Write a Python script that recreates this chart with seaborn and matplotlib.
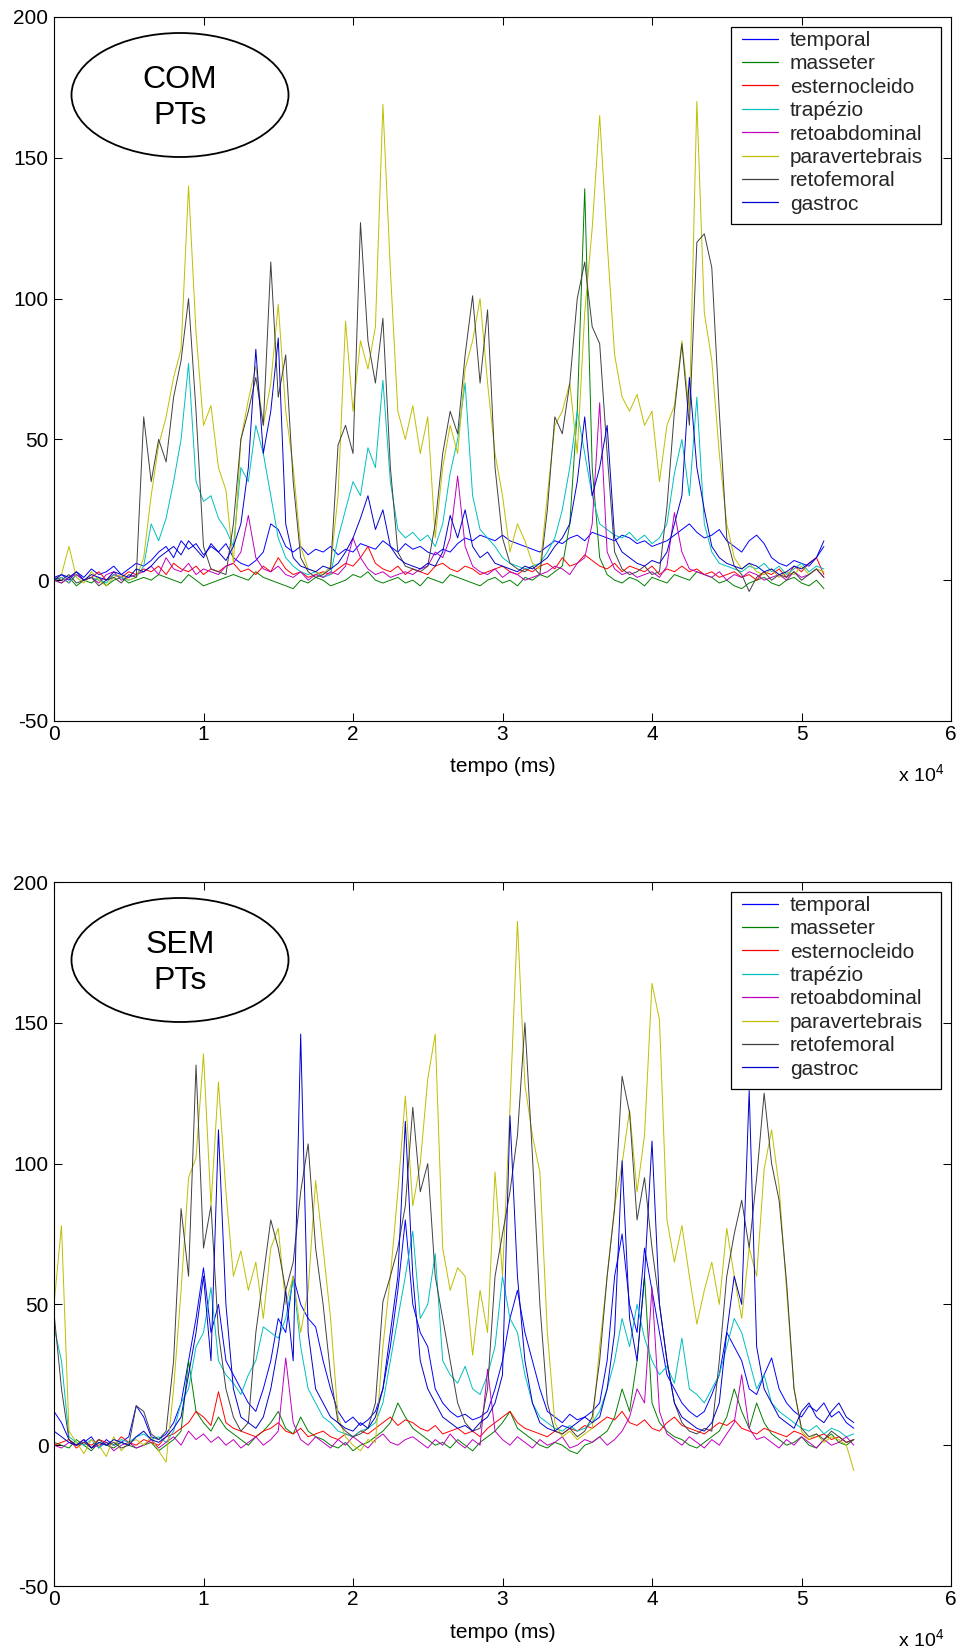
import numpy as np
import pandas as pd
import matplotlib
matplotlib.use("Agg")
import matplotlib.pyplot as plt
from matplotlib.patches import Ellipse, Rectangle
from matplotlib.lines import Line2D
import seaborn as sns

# ---------------- data ----------------
muscles = ["temporal", "masseter", "esternocleido", "trapézio",
           "retoabdominal", "paravertebrais", "retofemoral", "gastroc"]
colors = ["#0000ff", "#008000", "#ff0000", "#00bfbf",
          "#bf00bf", "#bfbf00", "#404040", "#0000cc"]
xtick_values = [0, 10000, 20000, 30000, 40000, 50000, 60000]
xtick_labels = ["0", "1", "2", "3", "4", "5", "6"]
ytick_values = [-50, 0, 50, 100, 150, 200]
ytick_labels = ["-50", "0", "50", "100", "150", "200"]
panel_labels = ["COM\nPTs", "SEM\nPTs"]
x_label = "tempo (ms)"
x_scale_label = "x 10$^{4}$"
sample_ms = 500  # one reading every 500 ms

# ---- COM PTs (0 .. 51.5 s) ----
com_temporal = [
    1, 2, 0, 3, 1, 4, 2, 3, 5, 2, 4, 6,
    5, 7, 10, 12, 8, 14, 11, 13, 9, 12, 10, 13,
    8, 6, 5, 7, 10, 20, 18, 12, 10, 12, 9, 11,
    10, 12, 9, 11, 10, 13, 12, 11, 14, 12, 10, 13,
    11, 12, 10, 9, 11, 10, 13, 15, 14, 16, 15, 14,
    16, 14, 13, 12, 11, 10, 12, 14, 13, 15, 16, 14,
    17, 16, 15, 14, 16, 15, 13, 14, 12, 13, 14, 16,
    18, 20, 17, 15, 16, 18, 14, 12, 10, 14, 16, 13,
    8, 6, 5, 7, 6, 5, 8, 12]
com_masseter = [
    0, -1, 1, -2, 0, -1, 1, -2, 0, 1, -1, 0,
    1, 0, 2, 1, 0, -1, 2, 0, -2, -1, 0, 1,
    2, 1, 0, 3, 1, 0, -1, -2, -3, 0, -1, 1,
    0, -2, -1, 0, 2, 1, 3, 0, -1, 0, 1, -1,
    0, -2, 1, 0, -1, 2, 1, 0, -1, -2, 0, 1,
    -1, 0, -2, 1, 0, 2, 1, 3, 5, 20, 60, 139,
    40, 8, 2, 0, -1, 1, 0, -2, 1, 0, -1, 2,
    1, 0, 3, 2, 1, -1, 0, -2, -3, -1, 0, 1,
    -1, -2, 0, 1, -1, -2, 0, -3]
com_esternocleido = [
    0, 1, -1, 2, 0, 1, 3, 0, 2, 1, 3, 2,
    4, 3, 5, 2, 6, 4, 3, 5, 2, 4, 3, 5,
    6, 3, 4, 2, 5, 3, 8, 4, 2, 3, 1, 2,
    3, 2, 4, 6, 5, 8, 12, 6, 4, 3, 5, 2,
    4, 3, 2, 5, 6, 4, 3, 5, 4, 2, 3, 4,
    5, 3, 2, 4, 3, 5, 6, 4, 8, 5, 6, 9,
    7, 5, 4, 6, 3, 5, 4, 3, 5, 2, 4, 3,
    5, 3, 4, 2, 3, 1, 2, 3, 1, 2, 0, 3,
    2, 4, 1, 5, 3, 6, 8, 2]
com_trapezio = [
    0, 1, -1, 2, 0, 1, 0, -1, 2, 1, 0, 1,
    5, 20, 14, 22, 35, 50, 77, 35, 28, 30, 22, 18,
    12, 40, 35, 55, 45, 30, 15, 8, 5, 3, 2, 3,
    1, 2, 15, 25, 35, 30, 47, 40, 71, 35, 18, 15,
    17, 14, 16, 12, 20, 38, 50, 70, 30, 18, 15, 12,
    8, 6, 5, 4, 5, 6, 10, 15, 25, 40, 60, 45,
    30, 20, 18, 16, 15, 17, 14, 16, 13, 15, 20, 38,
    50, 30, 65, 20, 10, 6, 5, 4, 3, 5, 4, 6,
    3, 5, 2, 4, 6, 3, 5, 4]
com_retoabdominal = [
    0, -1, 1, 2, 0, 1, -1, 2, 3, 0, 1, 2,
    3, 5, 2, 8, 4, 3, 6, 2, 4, 3, 2, 5,
    6, 10, 23, 8, 4, 3, 5, 2, 1, 3, 0, 2,
    1, 3, 2, 5, 15, 8, 4, 2, 3, 1, 2, 3,
    2, 4, 5, 10, 8, 15, 37, 12, 5, 3, 2, 4,
    1, 3, 2, 0, 1, 2, 3, 5, 4, 2, 6, 8,
    20, 63, 10, 4, 2, 3, 1, 2, 3, 1, 5, 24,
    10, 4, 3, 2, 1, 3, 0, 2, 1, 3, 2, 0,
    1, 2, 0, 3, 1, 2, 4, 1]
com_paravertebrais = [
    0, 2, 12, 1, -1, 3, 0, -2, 1, 2, 0, 1,
    8, 30, 48, 58, 72, 82, 140, 88, 55, 62, 40, 32,
    6, 50, 64, 76, 55, 70, 98, 60, 40, 12, 4, 3,
    2, 5, 30, 92, 60, 85, 75, 90, 169, 110, 60, 50,
    62, 45, 58, 15, 40, 55, 45, 75, 85, 100, 70, 45,
    30, 10, 20, 14, 6, 4, 30, 55, 60, 70, 45, 95,
    125, 165, 120, 80, 65, 60, 66, 55, 60, 35, 55, 62,
    85, 60, 170, 95, 78, 45, 20, 8, 4, 6, 3, 2,
    4, 1, 3, 2, 5, 2, 4, 3]
com_retofemoral = [
    1, 0, 2, -1, 0, 1, -2, 0, 1, -1, 2, 1,
    58, 35, 50, 42, 65, 78, 100, 60, 12, 4, 3, 2,
    20, 50, 60, 72, 55, 113, 65, 80, 35, 8, 3, 1,
    2, 4, 48, 55, 45, 127, 85, 70, 93, 40, 10, 5,
    4, 3, 5, 20, 45, 60, 52, 80, 101, 70, 96, 40,
    15, 6, 4, 3, 5, 2, 25, 58, 52, 70, 100, 113,
    90, 84, 45, 10, 4, 2, 3, 5, 2, 3, 26, 60,
    84, 55, 120, 123, 111, 60, 15, 5, 2, -4, 1, 3,
    0, 2, 1, 3, 0, 2, 4, 1]
com_gastroc = [
    0, 2, 1, 3, 0, 2, 1, 0, 3, 2, 1, 4,
    3, 5, 8, 10, 12, 9, 14, 11, 8, 13, 10, 7,
    12, 20, 40, 82, 45, 60, 86, 20, 8, 5, 4, 3,
    5, 4, 6, 10, 15, 22, 30, 18, 25, 12, 8, 6,
    5, 4, 6, 5, 10, 23, 15, 25, 12, 8, 10, 6,
    5, 4, 3, 5, 4, 6, 8, 12, 15, 20, 35, 58,
    30, 40, 55, 15, 10, 8, 6, 5, 7, 6, 10, 20,
    30, 72, 40, 25, 12, 8, 6, 5, 4, 6, 5, 3,
    4, 2, 3, 5, 4, 6, 8, 14]

# ---- SEM PTs (0 .. 53.5 s) ----
sem_temporal = [
    12, 8, 2, 0, 1, 3, -1, 2, 0, 1, 3, 14,
    10, 3, 2, 4, 8, 15, 30, 45, 63, 40, 50, 30,
    25, 20, 15, 12, 20, 30, 45, 40, 60, 50, 45, 42,
    30, 20, 12, 8, 10, 7, 9, 12, 20, 35, 55, 80,
    50, 40, 35, 20, 15, 12, 10, 11, 9, 10, 12, 20,
    30, 45, 55, 40, 30, 20, 12, 10, 8, 11, 9, 10,
    12, 15, 30, 60, 75, 50, 40, 70, 55, 40, 25, 20,
    15, 12, 10, 12, 18, 25, 40, 35, 30, 20, 18, 25,
    31, 20, 15, 12, 10, 14, 12, 15, 10, 12, 8, 6]
sem_masseter = [
    1, 0, -1, 2, 0, -2, 1, 0, -1, 1, 0, -1,
    0, 1, -2, 0, 2, 5, 30, 12, 8, 5, 10, 6,
    4, 2, 0, 3, 5, 8, 12, 6, 4, 10, 5, 3,
    2, 0, -1, 1, -2, 0, 1, 3, 5, 8, 15, 10,
    6, 4, 2, 0, 1, -1, 2, 0, -2, 1, 3, 5,
    8, 12, 6, 4, 2, 0, -1, 1, 0, -2, -3, 0,
    1, 3, 5, 10, 20, 12, 30, 60, 15, 8, 5, 3,
    2, 0, -1, 1, 3, 5, 10, 20, 12, 6, 15, 8,
    4, 2, 0, 1, 3, 0, -1, 2, 4, 1, 0, 2]
sem_esternocleido = [
    0, 1, 2, -1, 1, 0, 2, 1, 0, 3, 1, 0,
    2, 1, 0, 3, 4, 6, 8, 12, 10, 7, 19, 8,
    6, 5, 4, 3, 5, 6, 8, 5, 4, 6, 3, 4,
    5, 3, 2, 4, 3, 5, 4, 6, 8, 10, 7, 9,
    8, 6, 5, 7, 4, 5, 6, 4, 5, 3, 6, 8,
    10, 12, 8, 6, 5, 4, 3, 5, 4, 6, 5, 7,
    6, 8, 10, 9, 12, 8, 7, 9, 6, 5, 8, 10,
    7, 6, 5, 4, 6, 8, 7, 9, 6, 5, 4, 6,
    5, 4, 3, 5, 4, 2, 3, 4, 2, 3, 1, 2]
sem_trapezio = [
    42, 30, 3, 1, 0, 2, -1, 1, 0, 2, 1, 3,
    4, 2, 3, 1, 5, 15, 20, 35, 40, 56, 30, 25,
    22, 18, 25, 30, 42, 40, 38, 45, 59, 35, 20, 15,
    10, 8, 5, 4, 3, 5, 6, 8, 15, 30, 45, 60,
    76, 45, 50, 68, 30, 25, 22, 28, 20, 18, 25, 35,
    60, 45, 40, 25, 15, 10, 8, 6, 5, 7, 5, 6,
    8, 12, 20, 30, 45, 35, 50, 38, 30, 25, 28, 22,
    38, 20, 18, 15, 20, 25, 35, 45, 40, 30, 20, 25,
    15, 12, 10, 8, 6, 5, 7, 4, 6, 5, 3, 4]
sem_retoabdominal = [
    0, -1, 1, 0, 2, -1, 0, 1, -2, 0, 1, -1,
    0, 2, -1, 1, 3, 0, 5, 2, 4, 1, 3, 0,
    2, -1, 1, 3, 0, 2, 5, 31, 8, 2, 0, 3,
    1, -1, 2, 0, 3, 1, -1, 2, 4, 1, 0, 2,
    3, 1, -1, 2, 0, 4, 1, -1, 2, 0, 27, 5,
    2, 0, 3, 1, -1, 2, 0, 1, 3, -1, 0, 2,
    1, 3, 0, 2, 5, 10, 20, 15, 56, 12, 4, 2,
    0, 3, 1, -1, 2, 0, 4, 8, 25, 6, 2, 3,
    1, -1, 2, 0, 3, 1, -1, 2, 0, 1, 3, 0]
sem_paravertebrais = [
    50, 78, 5, 1, -3, 2, 0, -4, 3, -2, 1, 2,
    0, 3, -2, -6, 20, 55, 95, 102, 139, 85, 129, 90,
    60, 69, 55, 65, 45, 70, 77, 50, 60, 40, 55, 94,
    70, 45, 10, 3, 0, -2, 2, 1, 35, 60, 90, 124,
    85, 100, 130, 146, 70, 55, 63, 60, 32, 55, 40, 97,
    60, 120, 186, 128, 110, 97, 40, 8, 3, 5, 2, 4,
    6, 35, 60, 85, 100, 119, 90, 110, 164, 151, 80, 65,
    78, 60, 43, 55, 65, 50, 77, 60, 45, 70, 60, 98,
    112, 92, 55, 20, 5, 2, 4, 1, 3, 2, 0, -9]
sem_retofemoral = [
    47, 20, 2, 0, 1, -1, 2, 0, 1, -1, 0, 14,
    12, 4, 2, 5, 30, 84, 60, 135, 70, 85, 40, 20,
    10, 5, 8, 40, 60, 80, 70, 55, 65, 90, 107, 70,
    50, 25, 8, 5, 3, 4, 6, 15, 51, 60, 70, 85,
    120, 90, 100, 60, 45, 30, 15, 8, 5, 6, 20, 60,
    75, 90, 110, 150, 103, 50, 15, 5, 4, 6, 3, 5,
    10, 30, 60, 84, 131, 118, 80, 95, 70, 50, 30, 15,
    8, 5, 4, 6, 5, 30, 60, 75, 87, 70, 95, 125,
    100, 87, 58, 20, 6, 3, 4, 2, 5, 3, 1, 2]
sem_gastroc = [
    5, 3, 1, 0, 2, -1, 1, 0, 2, 1, 0, 3,
    5, 2, 1, 3, 6, 10, 25, 40, 60, 30, 112, 50,
    20, 10, 8, 6, 10, 20, 35, 55, 30, 146, 40, 20,
    15, 10, 8, 6, 5, 8, 6, 10, 20, 40, 60, 115,
    60, 30, 20, 15, 10, 8, 6, 7, 5, 8, 10, 15,
    25, 117, 60, 30, 15, 8, 6, 5, 7, 6, 8, 10,
    8, 10, 20, 40, 101, 45, 30, 60, 108, 50, 30, 15,
    10, 8, 6, 5, 8, 15, 40, 60, 50, 126, 35, 20,
    15, 10, 8, 6, 12, 15, 10, 8, 12, 15, 10, 8]

com_series = [com_temporal, com_masseter, com_esternocleido, com_trapezio,
              com_retoabdominal, com_paravertebrais, com_retofemoral, com_gastroc]
sem_series = [sem_temporal, sem_masseter, sem_esternocleido, sem_trapezio,
              sem_retoabdominal, sem_paravertebrais, sem_retofemoral, sem_gastroc]


def long_table(series_list):
    frames = []
    for name, vals in zip(muscles, series_list):
        frames.append(pd.DataFrame({
            "tempo": np.arange(len(vals)) * sample_ms,
            "valor": vals,
            "musculo": name,
        }))
    return pd.concat(frames, ignore_index=True)


# ---------------- style ----------------
sns.set_theme(style="white")
plt.rcParams["font.family"] = ["Liberation Sans", "DejaVu Sans"]
plt.rcParams["mathtext.default"] = "regular"

W, H = 957, 1648
fig = plt.figure(figsize=(W / 100, H / 100), dpi=100)
fig.patch.set_facecolor("white")

ax_left = 54
ax_right = 951
ax_w = ax_right - ax_left
panel_tops = [17, 882]
panel_h = 704

palette = dict(zip(muscles, colors))

for p, (series_list, label) in enumerate(zip([com_series, sem_series], panel_labels)):
    top = panel_tops[p]
    ax = fig.add_axes([ax_left / W, 1 - (top + panel_h) / H, ax_w / W, panel_h / H])
    ax.set_facecolor("white")
    df = long_table(series_list)
    sns.lineplot(data=df, x="tempo", y="valor", hue="musculo",
                 hue_order=muscles, palette=palette, linewidth=0.7,
                 estimator=None, sort=False, legend=False, ax=ax)

    ax.set_xlim(0, 60000)
    ax.set_ylim(-50, 200)
    ax.set_xticks(xtick_values)
    ax.set_xticklabels(xtick_labels)
    ax.set_yticks(ytick_values)
    ax.set_yticklabels(ytick_labels)
    ax.tick_params(axis="both", which="major", direction="in", length=5.5,
                   width=0.75, color="black", labelsize=15, labelcolor="black",
                   top=True, right=True, bottom=True, left=True)
    ax.tick_params(axis="x", pad=3)
    ax.tick_params(axis="y", pad=4)
    for s in ax.spines.values():
        s.set_visible(True)
        s.set_color("black")
        s.set_linewidth(0.8)
    ax.grid(False)

    ax.set_xlabel(x_label, fontsize=15, color="black", va="center")
    ax.xaxis.set_label_coords(0.5, -46 / panel_h)
    ax.set_ylabel("")
    ax.text((944 - ax_left) / ax_w, -53 / panel_h, x_scale_label,
            transform=ax.transAxes, ha="right", va="center",
            fontsize=14, color="black")

    # ellipse annotation (offsets measured from the axes top)
    cx = (180 - ax_left) / ax_w
    ell = Ellipse((cx, 1 - 78 / panel_h), 217 / ax_w, 124 / panel_h,
                  transform=ax.transAxes, facecolor="none", edgecolor="black",
                  linewidth=1.3, zorder=6)
    ax.add_patch(ell)
    ax.text(cx, 1 - 81 / panel_h, label,
            transform=ax.transAxes, ha="center", va="center",
            multialignment="center", fontsize=23, linespacing=1.3,
            color="black", zorder=7)

    # legend box (offsets measured from the axes top)
    box = Rectangle(((731 - ax_left) / ax_w, 1 - 207 / panel_h),
                    (941 - 731) / ax_w, (207 - 10) / panel_h,
                    transform=ax.transAxes, facecolor="white", edgecolor="black",
                    linewidth=0.9, zorder=8)
    ax.add_patch(box)
    handles = [Line2D([0], [0], color=c, linewidth=0.9) for c in colors]
    leg = ax.legend(handles, muscles, loc="upper left",
                    bbox_to_anchor=((742 - ax_left) / ax_w, 1 - 14 / panel_h),
                    frameon=False, fontsize=15, borderpad=0, borderaxespad=0,
                    handlelength=1.75, handletextpad=0.55, labelspacing=0.21)
    leg.set_zorder(9)

fig.savefig("out.png", dpi=100, facecolor="white")
